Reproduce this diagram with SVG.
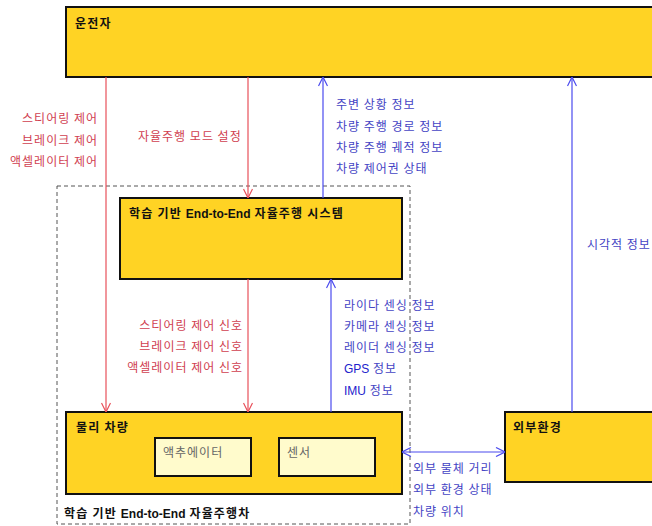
<svg xmlns="http://www.w3.org/2000/svg" width="652" height="526" viewBox="0 0 652 526">
<style>
text{font-family:"Noto Sans CJK KR","Liberation Sans",sans-serif;font-size:12px;letter-spacing:1px}
.b{font-weight:bold;fill:#111;letter-spacing:1.2px}
.lat{font-family:"Liberation Sans",Arial,sans-serif;letter-spacing:0}
.box{fill:#FFD324;stroke:#111;stroke-width:2}
.inner{fill:#FFFBCC;stroke:#111;stroke-width:2}
.red{stroke:#E8505A;stroke-width:1.2;fill:none}
.blue{stroke:#4A4AEE;stroke-width:1.2;fill:none}
.rt{fill:#D04050}
.bt{fill:#4444C4}
.gt{fill:#666}
</style>
<defs>
<marker id="ar" viewBox="0 0 10 10" refX="10" refY="5" markerWidth="10" markerHeight="10" markerUnits="userSpaceOnUse" orient="auto-start-reverse"><path d="M1,0.5 L10,5 L1,9.5" fill="none" stroke="#E8505A" stroke-width="1.2"/></marker>
<marker id="ab" viewBox="0 0 10 10" refX="10" refY="5" markerWidth="10" markerHeight="10" markerUnits="userSpaceOnUse" orient="auto-start-reverse"><path d="M1,0.5 L10,5 L1,9.5" fill="none" stroke="#4A4AEE" stroke-width="1.2"/></marker>
</defs>
<rect x="0" y="0" width="652" height="526" fill="#fff"/>
<g id="vehicle-container">
<rect x="57" y="186" width="353" height="338" fill="none" stroke="#555" stroke-width="1" stroke-dasharray="4 3"/>
<text class="b" x="64" y="518">학습 기반 <tspan class="lat">End-to-End</tspan> 자율주행차</text>
</g>
<g id="driver">
<rect class="box" x="66" y="7" width="600" height="70"/>
<text class="b" x="75" y="28">운전자</text>
</g>
<g id="system">
<rect class="box" x="120" y="198" width="282" height="81"/>
<text class="b" x="129" y="218">학습 기반 <tspan class="lat">End-to-End</tspan> 자율주행 시스템</text>
</g>
<g id="physical-vehicle">
<rect class="box" x="66" y="412" width="336" height="82"/>
<text class="b" x="76" y="432">물리 차량</text>
</g>
<g id="actuator">
<rect class="inner" x="155" y="438" width="96" height="38"/>
<text class="gt" x="163" y="457">액추에이터</text>
</g>
<g id="sensor">
<rect class="inner" x="279" y="438" width="96" height="38"/>
<text class="gt" x="287" y="457">센서</text>
</g>
<g id="environment">
<rect class="box" x="505" y="412" width="160" height="70"/>
<text class="b" x="513" y="432">외부환경</text>
</g>
<g id="connectors">
<line class="red" x1="106" y1="77" x2="106" y2="412" marker-end="url(#ar)"/>
<line class="red" x1="248" y1="77" x2="248" y2="198" marker-end="url(#ar)"/>
<line class="red" x1="248" y1="279" x2="248" y2="412" marker-end="url(#ar)"/>
<line class="blue" x1="323" y1="198" x2="323" y2="77" marker-end="url(#ab)"/>
<line class="blue" x1="572" y1="412" x2="572" y2="77" marker-end="url(#ab)"/>
<line class="blue" x1="331" y1="412" x2="331" y2="279" marker-end="url(#ab)"/>
<line class="blue" x1="402" y1="452" x2="505" y2="452" marker-start="url(#ab)" marker-end="url(#ab)"/>
</g>
<g id="labels">
<text class="rt" x="98" y="123" text-anchor="end">스티어링 제어</text>
<text class="rt" x="98" y="145" text-anchor="end">브레이크 제어</text>
<text class="rt" x="98" y="166" text-anchor="end">액셀레이터 제어</text>
<text class="rt" x="138" y="141">자율주행 모드 설정</text>
<text class="bt" x="336" y="109">주변 상황 정보</text>
<text class="bt" x="336" y="131">차량 주행 경로 정보</text>
<text class="bt" x="336" y="152">차량 주행 궤적 정보</text>
<text class="bt" x="336" y="173">차량 제어권 상태</text>
<text class="bt" x="587" y="249">시각적 정보</text>
<text class="rt" x="243" y="330" text-anchor="end">스티어링 제어 신호</text>
<text class="rt" x="243" y="351" text-anchor="end">브레이크 제어 신호</text>
<text class="rt" x="243" y="372" text-anchor="end">액셀레이터 제어 신호</text>
<text class="bt" x="344" y="310">라이다 센싱 정보</text>
<text class="bt" x="344" y="331">카메라 센싱 정보</text>
<text class="bt" x="344" y="352">레이더 센싱 정보</text>
<text class="bt" x="344" y="373"><tspan class="lat" fill="#2222CC">GPS</tspan> 정보</text>
<text class="bt" x="344" y="395"><tspan class="lat" fill="#2222CC">IMU</tspan> 정보</text>
<text class="bt" x="413" y="473">외부 물체 거리</text>
<text class="bt" x="413" y="494">외부 환경 상태</text>
<text class="bt" x="413" y="516">차량 위치</text>
</g>
</svg>
